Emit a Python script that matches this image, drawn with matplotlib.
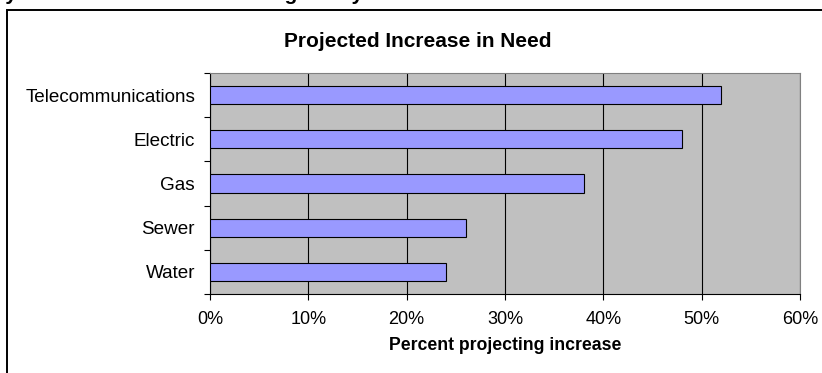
import matplotlib
matplotlib.use('Agg')
import matplotlib.pyplot as plt
from matplotlib.patches import Rectangle

plt.rcParams['font.family'] = ['Liberation Sans', 'DejaVu Sans']

utilities = ['Water', 'Sewer', 'Gas', 'Electric', 'Telecommunications']
increase = [24, 26, 38, 48, 52]  # percent projecting increase
x_ticks = [0, 10, 20, 30, 40, 50, 60]
x_labels = ['0%', '10%', '20%', '30%', '40%', '50%', '60%']

W, H = 822, 373
fig = plt.figure(figsize=(W / 100, H / 100), dpi=100)

# plot area in pixels: x 210-800, y 73-294
ax = fig.add_axes([210 / W, 1 - 294 / H, 590 / W, 221 / H])
pos = list(range(len(utilities)))
ax.barh(pos, increase, height=0.41, color='#9999ff', edgecolor='black',
        linewidth=0.8, zorder=3)

ax.set_xlim(0, 60)
ax.set_ylim(-0.5, len(utilities) - 0.5)
ax.set_facecolor('#c0c0c0')

ax.set_xticks(x_ticks)
ax.set_xticklabels(x_labels, fontsize=13)
ax.xaxis.grid(True, color='black', linewidth=0.8)
ax.set_axisbelow(True)
ax.tick_params(axis='x', direction='out', length=4.3, width=0.8, pad=8)

# y ticks at category boundaries, labels at centres
ax.set_yticks([p - 0.5 for p in pos] + [pos[-1] + 0.5])
ax.set_yticklabels([])
ax.set_yticks(pos, minor=True)
ax.set_yticklabels(utilities, minor=True, fontsize=13.6)
ax.tick_params(axis='y', which='major', direction='out', length=4.3, width=0.8)
ax.tick_params(axis='y', which='minor', length=0, pad=10.8)

for s in ['top', 'right']:
    ax.spines[s].set_color('#808080')
for s in ['left', 'bottom']:
    ax.spines[s].set_color('black')

fig.text(417.5 / W, 1 - 47 / H, 'Projected Increase in Need', ha='center',
         va='baseline', fontweight='bold', fontsize=15)
fig.text(505 / W, 1 - 350 / H, 'Percent projecting increase', ha='center',
         va='baseline', fontweight='bold', fontsize=12.7)

# heading of the page above, cut off at the top edge
fig.text(-53 / W, 1 - 0.5 / H, 'Survey: Most Needs Are Increasing Today',
         ha='left', va='baseline', fontweight='bold', fontsize=15)

# chart border, runs past the right and bottom edges
fig.add_artist(Rectangle((7 / W, -0.5), 2, 1.5 - 9.5 / H, transform=fig.transFigure,
                         fill=False, edgecolor='black', linewidth=1.4))

fig.savefig('out.png', dpi=100)
